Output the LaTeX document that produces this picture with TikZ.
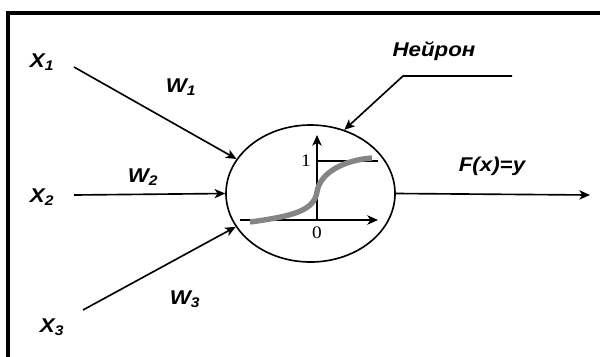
\documentclass[tikz,border=0pt]{standalone}
\usepackage{fontspec}
\setmainfont{Liberation Sans}
\newfontfamily\lblfont[FakeStretch=1.12]{Liberation Sans}
\newfontfamily\numfont[FakeStretch=1.1]{Liberation Serif}
\usetikzlibrary{arrows.meta,shapes.geometric}

\begin{document}
\begin{tikzpicture}[x=0.3mm,y=-0.3mm,
 lbl/.style={font=\lblfont\fontsize{17}{20}\selectfont\bfseries\itshape,inner sep=0pt},
 num/.style={font=\numfont\fontsize{15}{17}\selectfont,inner sep=0pt},
 arr/.style={-{Stealth[length=3.2mm,width=2.8mm,inset=0.9mm]},line width=1.4pt},
 frame/.style={line width=3.6pt},
 sigm/.style={line width=4.6pt,draw=black!48}]
\path[use as bounding box] (0,0) rectangle (600,356);
\draw[frame] (8,362) -- (8,13) -- (606,13);
% neuron body
\node[ellipse,draw,line width=1.4pt,minimum width=50.7mm,minimum height=41.1mm,inner sep=0pt] (neuron) at (310.5,193.5) {};
% inputs and weights
\node[lbl] (x1) at (42,62) {X\textsubscript{1}};
\node[lbl] (x2) at (42,197) {X\textsubscript{2}};
\node[lbl] (x3) at (52,327) {X\textsubscript{3}};
\node[lbl] (w1) at (181,87) {W\textsubscript{1}};
\node[lbl] (w2) at (143,177) {W\textsubscript{2}};
\node[lbl] (w3) at (185,299) {W\textsubscript{3}};
\coordinate (in1) at (74,67);
\coordinate (in2) at (74,195);
\coordinate (in3) at (83,310);
\draw[arr] (in1) -- (neuron.155);
\draw[arr] (in2) -- (neuron.west);
\draw[arr] (in3) -- (neuron.204);
% output
\coordinate (out) at (590,195);
\draw[arr] (neuron.east) -- (out);
\node[lbl] (fx) at (492,166) {F(x)=y};
% caption with leader
\node[lbl] (name) at (434,51) {Нейрон};
\coordinate (lead) at (512,76);
\coordinate (knee) at (403,76);
\draw[arr] (lead) -- (knee) -- (neuron.62);
% activation graph
\coordinate (org) at (317,220);
\draw[arr] (240,220) -- (378,220);
\draw[arr] (org) -- (317,135);
\draw[line width=1.4pt] (317,161) -- (378,161);
\node[num] (one) at (306,161) {1};
\node[num] (zero) at (317,233) {0};
\draw[sigm] (250,222) .. controls (295,216) and (314,210) .. (317,192)
 .. controls (320,172) and (345,160) .. (372,158);
\end{tikzpicture}
\end{document}
